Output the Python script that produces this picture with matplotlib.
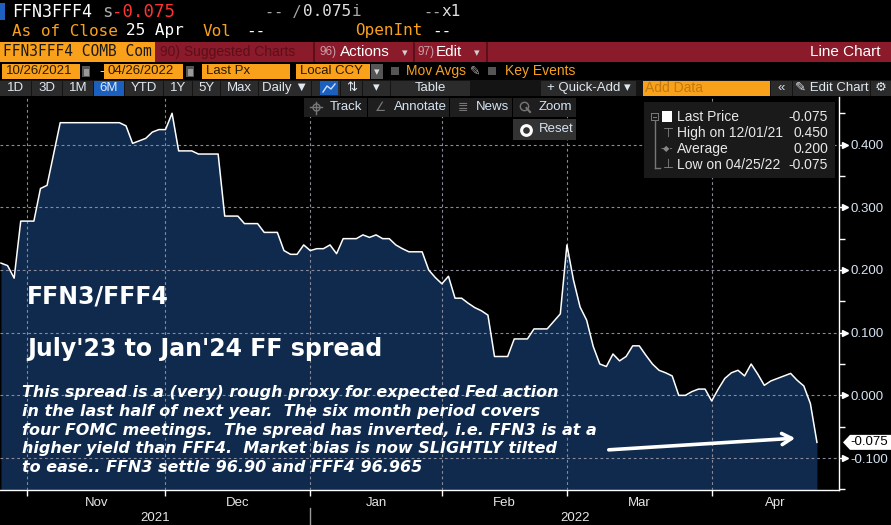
import numpy as np
import matplotlib
matplotlib.use('Agg')
import matplotlib.pyplot as plt
from matplotlib.patches import Rectangle, Polygon
from matplotlib.ticker import FormatStrFormatter

plt.rcParams['axes.unicode_minus'] = False
plt.rcParams['font.family'] = ['Liberation Sans', 'DejaVu Sans']

# FFN3/FFF4 spread, one value per trading day, 10/26/2021 .. 04/25/2022
spread = [0.211, 0.207, 0.187, 0.278, 0.278, 0.278, 0.330, 0.335, 0.385, 0.435,
          0.435, 0.435, 0.435, 0.435, 0.435, 0.435, 0.435, 0.435, 0.435, 0.430,
          0.402, 0.406, 0.410, 0.420, 0.424, 0.424, 0.450, 0.390, 0.390, 0.390,
          0.385, 0.385, 0.385, 0.385, 0.286, 0.286, 0.286, 0.274, 0.274, 0.274,
          0.260, 0.260, 0.260, 0.231, 0.225, 0.225, 0.240, 0.231, 0.234, 0.234,
          0.240, 0.226, 0.250, 0.250, 0.250, 0.256, 0.252, 0.256, 0.250, 0.250,
          0.240, 0.234, 0.229, 0.229, 0.229, 0.200, 0.188, 0.178, 0.190, 0.155,
          0.155, 0.147, 0.140, 0.135, 0.128, 0.062, 0.062, 0.062, 0.090, 0.090,
          0.090, 0.106, 0.106, 0.106, 0.118, 0.130, 0.240, 0.184, 0.141, 0.120,
          0.078, 0.050, 0.046, 0.066, 0.055, 0.062, 0.079, 0.079, 0.064, 0.050,
          0.040, 0.036, 0.031, 0.000, 0.000, 0.006, 0.010, 0.010, -0.009, 0.010,
          0.027, 0.036, 0.040, 0.031, 0.050, 0.034, 0.016, 0.023, 0.027, 0.031,
          0.035, 0.024, 0.015, -0.013, -0.075]

month_names = ['Nov', 'Dec', 'Jan', 'Feb', 'Mar', 'Apr']
month_start = [4, 25, 47, 67, 86, 108]      # index of first trading day of month
years = ['2021', '2022']
year_start = 47                              # first day of 2022

y_major = [-0.1, 0.0, 0.1, 0.2, 0.3, 0.4]
y_minor = [-0.15, -0.05, 0.05, 0.15, 0.25, 0.35, 0.45]

legend_rows = [('Last Price', '-0.075'), ('High on 12/01/21', '0.450'),
               ('Average', '0.200'), ('Low on 04/25/22', '-0.075')]

title1 = 'FFN3/FFF4'
title2 = "July'23 to Jan'24 FF spread"
note = ["This spread is a (very) rough proxy for expected Fed action",
        "in the last half of next year.  The six month period covers",
        "four FOMC meetings.  The spread has inverted, i.e. FFN3 is at a",
        "higher yield than FFF4.  Market bias is now SLIGHTLY tilted",
        "to ease.. FFN3 settle 96.90 and FFF4 96.965"]

W, H = 891, 525
ORANGE = '#f9a11b'
RED = '#8b1a2a'
NAVY = '#0f2a4c'
LBLUE = '#d6e4f2'

fig = plt.figure(figsize=(W / 100, H / 100), dpi=100, facecolor='black')


def ftxt(x, y, s, size=10, color='white', family=None, ha='left', va='center', **kw):
    if family is None:
        family = ['Liberation Sans', 'DejaVu Sans']
    fig.text(x / W, 1 - y / H, s, fontsize=size, color=color, family=family,
             ha=ha, va=va, **kw)


def frect(x0, y0, x1, y1, color, z=1):
    fig.add_artist(Rectangle((x0 / W, 1 - y1 / H), (x1 - x0) / W, (y1 - y0) / H,
                             transform=fig.transFigure, facecolor=color,
                             edgecolor='none', zorder=z))


def fline(xs, ys, color, lw=1, z=3, **kw):
    fig.add_artist(plt.Line2D([x / W for x in xs], [1 - y / H for y in ys],
                              transform=fig.transFigure, color=color, lw=lw,
                              zorder=z, **kw))


# ---- chart ----
ax = fig.add_axes([0, 35 / H, 839 / W, 393 / H])
ax.set_facecolor('black')
idx = np.arange(len(spread))
ymin, ymax = -0.151, 0.476
ax.fill_between(idx, spread, ymin, color=NAVY, lw=0, zorder=1)
ax.plot(idx, spread, color='white', lw=1.1, zorder=3)
ax.set_xlim(-0.15, 127.35)
ax.set_ylim(ymin, ymax)

for s in ['left', 'top']:
    ax.spines[s].set_visible(False)
for s in ['right', 'bottom']:
    ax.spines[s].set_color('white')
    ax.spines[s].set_linewidth(1)

ax.yaxis.tick_right()
ax.set_yticks(y_major)
ax.set_yticks(y_minor, minor=True)
ax.yaxis.set_major_formatter(FormatStrFormatter('%.3f'))
ax.tick_params(axis='y', which='major', length=5, width=1, color='white',
               pad=3, labelsize=9.5, labelcolor=LBLUE)
ax.tick_params(axis='y', which='minor', length=4, width=1, color='white')

mids = [(a + b) / 2 for a, b in zip(month_start, month_start[1:] + [ax.get_xlim()[1]])]
ax.set_xticks(month_start)
ax.set_xticklabels([])
ax.set_xticks(mids, minor=True)
ax.set_xticklabels(month_names, minor=True)
ax.tick_params(axis='x', which='major', length=4, width=1, color='white')
ax.tick_params(axis='x', which='minor', length=0, pad=5, labelsize=9.5,
               labelcolor='#e6e6e6')

ax.set_axisbelow(False)
ax.grid(True, which='major', color='#8a8a9a', ls=(0, (2.5, 2.5)), lw=0.8)

# year labels under months
xl = ax.get_xlim()
bt = ax.get_xaxis_transform()
ax.text((xl[0] + year_start) / 2, -0.07, years[0], transform=bt, ha='center',
        va='center', fontsize=9.5, color='#e6e6e6')
ax.text((year_start + xl[1]) / 2, -0.07, years[1], transform=bt, ha='center',
        va='center', fontsize=9.5, color='#e6e6e6')
ax.plot([year_start, year_start], [-0.045, -0.095], transform=bt, color='#9a9a9a',
        lw=1, clip_on=False)

# tick arrows and last price tag
yt = ax.get_yaxis_transform()
hx = 1 / 839
hy = (ymax - ymin) / 393
ax.plot([1 + 6 * hx] * len(y_major), y_major, ls='none', marker='>', ms=4,
        color='white', transform=yt, clip_on=False)
last = spread[-1]
tag = Polygon([(1 + 4 * hx, last), (1 + 11 * hx, last + 7.5 * hy),
               (1 + 60 * hx, last + 7.5 * hy), (1 + 60 * hx, last - 7.5 * hy),
               (1 + 11 * hx, last - 7.5 * hy)], closed=True, transform=yt,
              facecolor='white', edgecolor='none', clip_on=False, zorder=5)
ax.add_patch(tag)
ax.text(1 + 11 * hx, last, '%.3f' % last, transform=yt, ha='left', va='center',
        fontsize=9.5, color='black', clip_on=False, zorder=6)

# annotations on chart
ftxt(27, 303, title1, size=17, family='DejaVu Sans', weight='bold', va='baseline')
ftxt(27, 356, title2, size=17, family='DejaVu Sans', weight='bold', va='baseline')
for k, line in enumerate(note):
    ftxt(22, 397 + 18.8 * k, line, size=11.5, family='DejaVu Sans', weight='bold',
         style='italic', va='baseline')

ax.annotate('', xy=(798, H - 438), xytext=(606, H - 450), xycoords='figure pixels',
            textcoords='figure pixels',
            arrowprops=dict(arrowstyle='->,head_length=0.7,head_width=0.4',
                            color='white', lw=2.6))

# ---- overlay buttons inside chart ----
for x0, x1, lab in [(304, 367, 'Track'), (368, 449, 'Annotate'),
                    (450, 512, 'News'), (513, 576, 'Zoom')]:
    frect(x0, 98, x1, 117, '#1e1e1e')
    ftxt(x0 + 26, 107.5, lab, size=9.5, color=LBLUE)
# crosshair icon (Track)
fline([310, 322], [107.5, 107.5], '#777777')
fline([316, 316], [101.5, 113.5], '#777777')
fline([316], [107.5], '#777777', marker='o', ms=5, mfc='none', mec='#777777', mew=1)
ftxt(381, 107.5, '\u2220', size=9, color='#777777', family='DejaVu Sans', ha='center')
ftxt(463, 107.5, '\u2263', size=9, color='#777777', family='DejaVu Sans', ha='center')
# magnifier icon (Zoom)
fline([524], [105.5], '#777777', marker='o', ms=6, mfc='none', mec='#777777', mew=1)
fline([526.5, 530], [108, 112], '#777777', lw=1.5)

frect(513, 119, 576, 140, '#333333')
fline([526], [129.5], 'white', marker='o', ms=7, mfc='#333333', mec='white', mew=2.2)
ftxt(539, 129.5, 'Reset', size=9.5, color=LBLUE)

# legend box
frect(644, 102, 835, 178, '#1a1a1a')
ry = [117, 133, 149, 165]
fline([655, 655], [121, 168], '#777777', z=2)
fline([655, 660], [168, 168], '#777777', z=2)
frect(651, 113, 659, 121, '#777777', z=2)
frect(652, 114, 658, 120, '#1a1a1a', z=2)
frect(653, 116.5, 657, 117.5, '#777777', z=2)
frect(662, 111, 672, 122, 'white', z=2)
ftxt(668, ry[1], '\u22a4', size=9, color='#888888', family='DejaVu Sans', ha='center')
ftxt(667, ry[2], '-\u25c6-', size=6, color='#888888', family='DejaVu Sans', ha='center')
ftxt(668, ry[3], '\u22a5', size=9, color='#888888', family='DejaVu Sans', ha='center')
for (lab, val), yy in zip(legend_rows, ry):
    ftxt(677, yy, lab, size=10, color='#e8e8e8')
    ftxt(828, yy, val, size=10, color='#e8e8e8', ha='right')

# ---- header ----
MONO = 'DejaVu Sans Mono'
frect(0, 3, 5, 20, '#1f5fbf')
ftxt(12, 12, 'FFN3FFF4', size=12, family=MONO)
ftxt(102, 12, 's', size=12.5, color='#a8a8a8', family=MONO)
ftxt(112, 12, '-0.075', size=12.5, color='#ff3333', family=MONO)
ftxt(265, 12, '-- /', size=11, color='#a8a8a8', family=MONO)
ftxt(303, 12, '0.075', size=11.5, color='#e0e0e0', family=MONO)
ftxt(352, 12, 'i', size=11.5, color='#a8a8a8', family=MONO)
ftxt(423, 12, '--', size=11, color='#a8a8a8', family=MONO)
ftxt(441, 12, 'x1', size=11.5, color='#e0e0e0', family=MONO)

ftxt(12, 31, 'As of Close', size=11.5, color=ORANGE, family=MONO)
ftxt(126, 31, '25 Apr', size=11.5, color='white', family=MONO)
ftxt(203, 31, 'Vol', size=11.5, color=ORANGE, family=MONO)
ftxt(246, 31, '--', size=11.5, color='white', family=MONO)
ftxt(355, 31, 'OpenInt', size=11.5, color=ORANGE, family=MONO)
ftxt(432, 31, '--', size=11.5, color='white', family=MONO)

# red menu bar
frect(0, 42, 891, 62, RED)
frect(0, 42, 155, 62, ORANGE)
ftxt(3, 52, 'FFN3FFF4 COMB Com', size=10.5, color='#1a1a1a', family=MONO)
ftxt(160, 52, '90) Suggested Charts', size=10, color='#5c0f1a')
for xs in [313, 413, 486]:
    frect(xs, 42, xs + 1.5, 62, '#5c0f1a', z=2)
ftxt(320, 52, '96)', size=8.5, color='#c9a0a8')
ftxt(340, 52, 'Actions', size=11, color='white')
ftxt(405, 53, '\u25be', size=8, color='#d0d0d0', family='DejaVu Sans', ha='center')
ftxt(417, 52, '97)', size=8.5, color='#c9a0a8')
ftxt(436, 52, 'Edit', size=11, color='white')
ftxt(477, 53, '\u25be', size=8, color='#d0d0d0', family='DejaVu Sans', ha='center')
ftxt(880, 52, 'Line Chart', size=11, color='white', ha='right')

# date / field row
for x0, x1, lab in [(2, 80, '10/26/2021'), (104, 183, '04/26/2022'),
                    (202, 290, 'Last Px'), (296, 370, 'Local CCY')]:
    frect(x0, 64, x1, 79, ORANGE)
    ftxt(x0 + 4, 71.5, lab, size=9.5, color='#2a1a00')
for xc in [82, 186]:
    frect(xc, 66, xc + 8, 77, '#555555')
    frect(xc + 1.5, 69, xc + 6.5, 75.5, '#9a9a9a')
ftxt(99, 71.5, '-', size=10.5, color='#dddddd')
frect(371, 64, 383, 79, '#555555')
ftxt(377, 72, '\u25be', size=8, color='#dddddd', family='DejaVu Sans', ha='center')
frect(391, 67, 399, 75, '#555555')
ftxt(406, 71.5, 'Mov Avgs', size=10, color=ORANGE)
ftxt(475, 71.5, '\u270e', size=9, color='#aaaaaa', family='DejaVu Sans', ha='center')
frect(488, 67, 496, 75, '#555555')
ftxt(505, 71.5, 'Key Events', size=10, color=ORANGE)

# period toolbar
frect(0, 80, 891, 96, '#141414')
cells = [(0, 31, '1D'), (32, 62, '3D'), (63, 93, '1M'), (94, 124, '6M'),
         (125, 163, 'YTD'), (164, 192, '1Y'), (193, 220, '5Y'), (221, 258, 'Max'),
         (259, 311, 'Daily \u25bc'), (312, 340, ''), (341, 362, '\u21c5'),
         (363, 390, '\u25be'), (391, 470, 'Table'), (541, 636, '+ Quick-Add \u25be'),
         (771, 792, '\u00ab'), (793, 870, '\u270e Edit Chart'), (871, 891, '\u2699')]
for x0, x1, lab in cells:
    col = '#1b5fbf' if lab == '6M' else '#2b2b2b'
    frect(x0, 80.5, x1, 95.5, col)
    if lab:
        ftxt((x0 + x1) / 2, 88, lab, size=9.5, color='#e0e8f0', ha='center')
frect(320, 81, 338, 95, '#1b5fbf', z=2)
fline([323, 327, 331, 335], [92, 86, 89, 84], '#cfe0ff')
frect(643, 80.5, 770, 95.5, ORANGE)
ftxt(645, 88, 'Add Data', size=10, color='#c07a10')

fig.savefig('out.png', dpi=100, facecolor='black')
